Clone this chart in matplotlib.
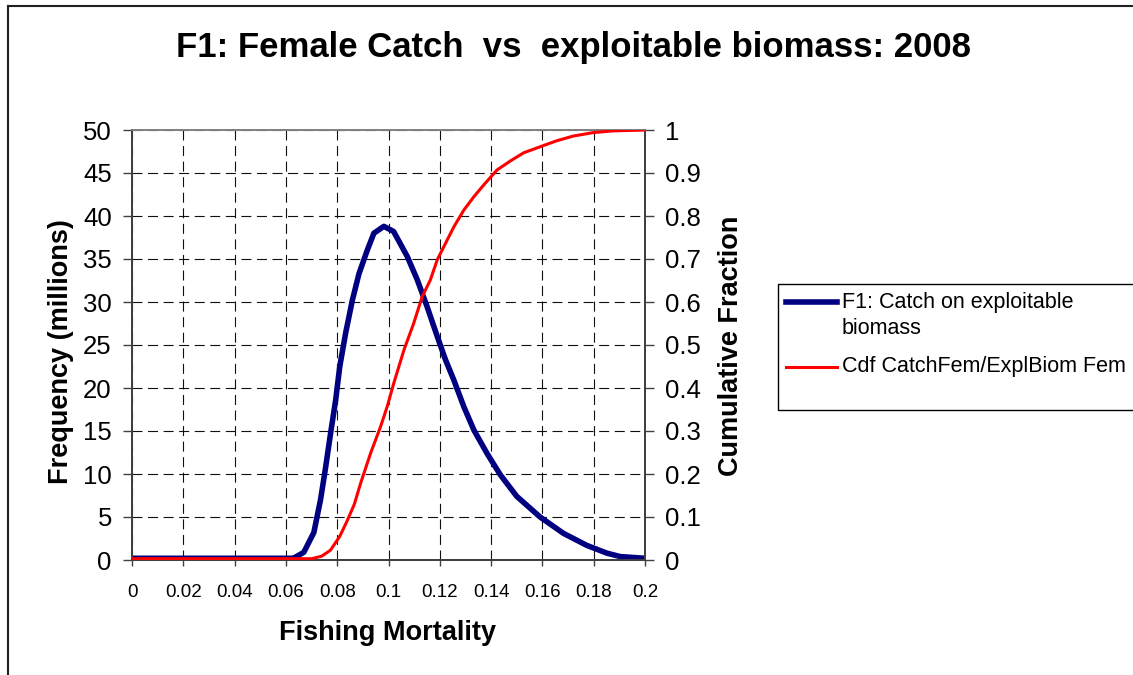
import matplotlib
matplotlib.use('Agg')
import matplotlib.pyplot as plt
from matplotlib.lines import Line2D
from matplotlib.patches import Rectangle

plt.rcParams['font.family'] = ['Liberation Sans', 'DejaVu Sans']

# ---------------------------------------------------------------------------
# data
# ---------------------------------------------------------------------------
f_catch = [0.0, 0.063, 0.0635, 0.067, 0.0709, 0.0735, 0.0755, 0.0774, 0.0794,
           0.081, 0.0833, 0.0859, 0.0885, 0.0917, 0.0943, 0.0982, 0.102,
           0.1073, 0.1112, 0.115, 0.119, 0.1222, 0.1255, 0.1294, 0.1333,
           0.1384, 0.1436, 0.15, 0.1591, 0.1682, 0.1773, 0.1851, 0.1903, 0.2]
freq_catch = [0.2, 0.2, 0.3, 0.9, 3.2, 7.0, 10.8, 14.7, 18.6,
              22.5, 26.4, 30.2, 33.3, 36.0, 38.0, 38.8, 38.2,
              35.3, 32.6, 29.5, 26.0, 23.3, 20.9, 17.8, 15.1,
              12.4, 9.9, 7.4, 5.0, 3.1, 1.7, 0.8, 0.4, 0.2]

f_cdf = [0.0, 0.070, 0.074, 0.0774, 0.081, 0.0838, 0.0867, 0.0891, 0.093,
         0.0969, 0.0995, 0.102, 0.106, 0.1098, 0.1131, 0.1163, 0.119,
         0.1216, 0.1255, 0.1294, 0.1333, 0.1371, 0.1423, 0.1475, 0.1527,
         0.1591, 0.1656, 0.1721, 0.1799, 0.1877, 0.2]
cdf = [0.003, 0.003, 0.009, 0.023, 0.055, 0.09, 0.13, 0.178, 0.248,
       0.31, 0.357, 0.41, 0.488, 0.55, 0.612, 0.651, 0.698,
       0.729, 0.775, 0.814, 0.845, 0.872, 0.907, 0.928, 0.947,
       0.961, 0.975, 0.986, 0.994, 0.998, 1.0]

x_ticks = [0, 0.02, 0.04, 0.06, 0.08, 0.1, 0.12, 0.14, 0.16, 0.18, 0.2]
x_ticklabels = ['0', '0.02', '0.04', '0.06', '0.08', '0.1', '0.12', '0.14',
                '0.16', '0.18', '0.2']
y_ticks = [0, 5, 10, 15, 20, 25, 30, 35, 40, 45, 50]
y2_ticks = [0, 0.1, 0.2, 0.3, 0.4, 0.5, 0.6, 0.7, 0.8, 0.9, 1.0]
y2_ticklabels = ['0', '0.1', '0.2', '0.3', '0.4', '0.5', '0.6', '0.7', '0.8',
                 '0.9', '1']

label_catch = 'F1: Catch on exploitable\nbiomass'
label_cdf = 'Cdf CatchFem/ExplBiom Fem'

COLOR_BLUE = '#000080'
COLOR_RED = '#ff0000'
SPINE = '#404040'

W, H = 1133, 675
fig = plt.figure(figsize=(W / 100, H / 100), dpi=100)
fig.patch.set_facecolor('white')

# plot area in pixels: x 132..645, y 130..560
ax = fig.add_axes([132 / W, 1 - 560 / H, (645 - 132) / W, (560 - 130) / H])
ax2 = ax.twinx()

ax.plot(f_catch, freq_catch, color=COLOR_BLUE, lw=4.0, solid_capstyle='butt',
        solid_joinstyle='round', zorder=3, label=label_catch)
ax2.plot(f_cdf, cdf, color=COLOR_RED, lw=2.2, solid_capstyle='butt',
         solid_joinstyle='round', zorder=3, label=label_cdf)

ax.set_xlim(0, 0.2)
ax.set_ylim(0, 50)
ax2.set_ylim(0, 1)

ax.set_xticks(x_ticks)
ax.set_xticklabels(x_ticklabels, fontsize=13.5)
ax.set_yticks(y_ticks)
ax.set_yticklabels([str(v) for v in y_ticks], fontsize=18.5)
ax2.set_yticks(y2_ticks)
ax2.set_yticklabels(y2_ticklabels, fontsize=18.5)

ax.tick_params(axis='y', direction='out', length=6.5, width=1, color=SPINE, pad=8)
ax.tick_params(axis='x', direction='out', length=4, width=1, color=SPINE, pad=13)
ax2.tick_params(axis='y', direction='out', length=6.5, width=1, color=SPINE, pad=8)

# dashed grid
ax.grid(True, color='#101010', lw=0.8, linestyle=(0, (9, 5)))
ax.set_axisbelow(True)

for a in (ax, ax2):
    for s in a.spines.values():
        s.set_color(SPINE)
        s.set_linewidth(1.4)
    a.spines['top'].set_color('#808080')
    a.spines['top'].set_linewidth(1.2)

# axis labels
ax.set_xlabel('Fishing Mortality', fontsize=19.5, fontweight='bold')
ax.xaxis.set_label_coords((388 - 132) / 513, (560 - 633) / 430)
ax.xaxis.label.set_verticalalignment('center')

ax.set_ylabel('Frequency (millions)', fontsize=19.5, fontweight='bold')
ax.yaxis.set_label_coords((61 - 132) / 513, (560 - 352) / 430)
ax.yaxis.label.set_verticalalignment('center')

ax2.set_ylabel('Cumulative Fraction', fontsize=19.5, fontweight='bold')
ax2.yaxis.set_label_coords((731 - 132) / 513, (560 - 346) / 430)
ax2.yaxis.label.set_verticalalignment('center')

fig.text(574 / W, 1 - 48 / H, 'F1: Female Catch  vs  exploitable biomass: 2008',
         fontsize=25, fontweight='bold', ha='center', va='center')

# legend drawn by hand (box runs off the right edge, as in the original)
fig.add_artist(Rectangle((778 / W, 1 - 410 / H), 0.5, (410 - 284) / H,
                         transform=fig.transFigure, facecolor='white',
                         edgecolor='black', lw=1.0))
fig.add_artist(Line2D([786 / W, 837 / W], [1 - 302 / H, 1 - 302 / H],
                      transform=fig.transFigure, color=COLOR_BLUE, lw=4.0))
fig.add_artist(Line2D([786 / W, 837 / W], [1 - 367 / H, 1 - 367 / H],
                      transform=fig.transFigure, color=COLOR_RED, lw=2.2))
fig.text(842 / W, 1 - 302 / H, 'F1: Catch on exploitable', fontsize=15.5,
         ha='left', va='center')
fig.text(842 / W, 1 - 329 / H, 'biomass', fontsize=15.5, ha='left', va='center')
fig.text(842 / W, 1 - 366 / H, label_cdf, fontsize=15.5, ha='left', va='center')

# outer chart border (top and left edges visible)
fig.add_artist(Line2D([8 / W, 1.0], [1 - 5.5 / H, 1 - 5.5 / H],
                      transform=fig.transFigure, color='#202020', lw=1.5))
fig.add_artist(Line2D([8 / W, 8 / W], [0.0, 1 - 5.5 / H],
                      transform=fig.transFigure, color='#202020', lw=1.5))

fig.savefig('out.png', dpi=100, facecolor='white')
